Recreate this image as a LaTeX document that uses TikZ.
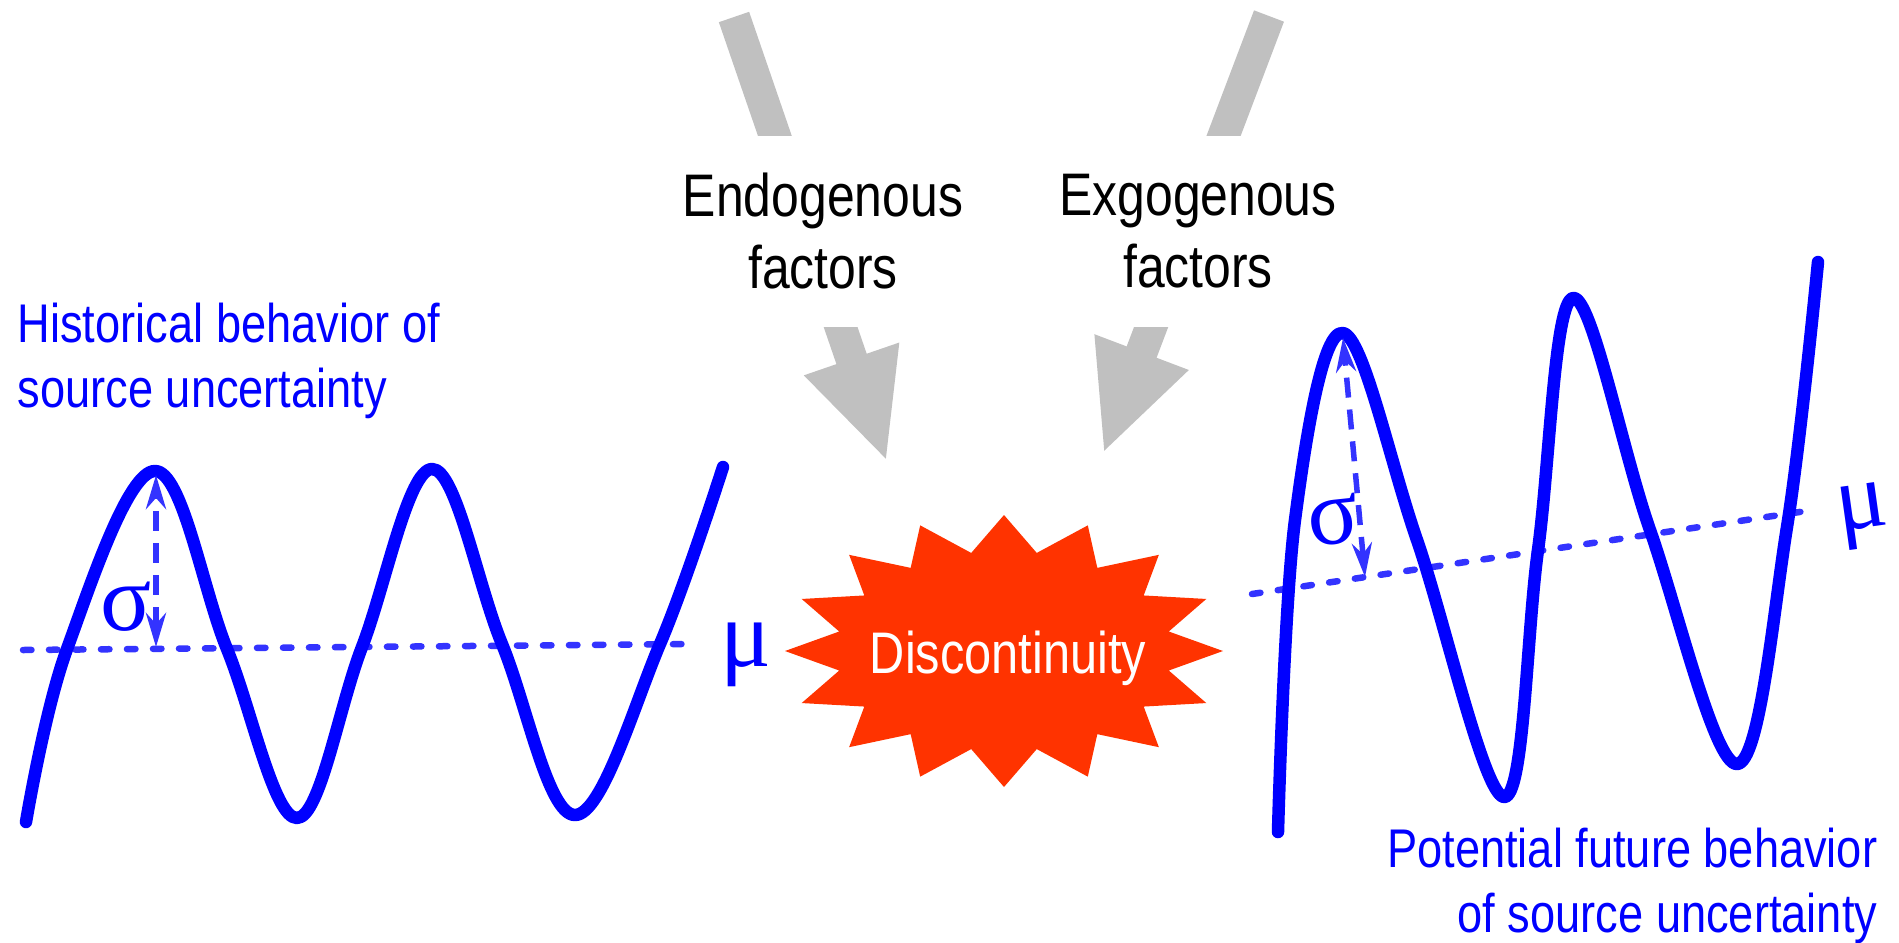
\documentclass[tikz,border=0pt]{standalone}
\usepackage{fontspec}
\setmainfont{Liberation Sans}[FakeStretch=0.83]
\newfontfamily\greekfont{Liberation Serif}
\usepackage{tikz}
\usetikzlibrary{arrows.meta}

\definecolor{waveblue}{RGB}{0,0,255}
\definecolor{dashblue}{RGB}{51,51,255}
\definecolor{arrowgray}{RGB}{192,192,192}
\definecolor{burst}{RGB}{255,51,0}

\begin{document}
\begin{tikzpicture}[
  x=0.1mm, y=-0.1mm,
  factor/.style={align=center, fill=white, inner sep=0pt, minimum height=19.1mm,
    font=\fontsize{17.1}{20.5}\selectfont},
  caption/.style={text=waveblue, inner sep=0pt, font=\fontsize{15.5}{18.7}\selectfont},
  greek/.style={text=waveblue, inner sep=0pt, font=\greekfont\fontsize{27}{27}\selectfont},
  push/.style={draw=arrowgray, line width=3.2mm, -{Triangle[length=10.9mm, width=9.2mm]}},
  wave/.style={draw=waveblue, line width=1.25mm, line cap=round, line join=round},
  meanline/.style={draw=dashblue, line width=0.65mm, line cap=round, dash pattern=on 0.85mm off 1.75mm},
  spread/.style={draw=dashblue, line width=0.55mm, dash pattern=on 2mm off 1.2mm,
    {Stealth[length=3.4mm, width=2mm]}-{Stealth[length=3.4mm, width=2mm]}}
]
\useasboundingbox (0,0) rectangle (1899,942);

% gray arrows, cut by the white label boxes
\coordinate (endo top) at (734,17);
\coordinate (endo tip) at (887,462);
\coordinate (exo top) at (1269,16);
\coordinate (exo tip) at (1103,454);
\draw[push] (endo top) -- (endo tip);
\draw[push] (exo top) -- (exo tip);

\node[factor] (endo) at (823,231) {Endogenous\\factors};
\node[factor] (exo) at (1198,231) {Exgogenous\\factors};

% the burst
\fill[burst, shift={(1004,651)}] (0:219 and 136)
  \foreach \k in {0,...,15} { -- (\k*22.5:219 and 136) -- (\k*22.5+11.25:168 and 100) } -- cycle;
\node[text=white, inner sep=0pt, anchor=base, font=\fontsize{16.7}{20}\selectfont] (disc)
  at (1008,673) {Discontinuity};

% historical behaviour
\node[caption, align=left, anchor=north west] (hist) at (17,302)
  {Historical behavior of\\source uncertainty};
\draw[meanline] (23,650) -- (692,644);
\draw[wave] plot[smooth, tension=0.62] coordinates {
  (26,822) (67,649) (155,471) (227,649) (297,818) (362,647) (432,469)
  (502,644) (575,815) (660,644) (723,467)};
\coordinate (peakL) at (156,475);
\coordinate (footL) at (156,647);
\draw[spread] (footL) -- (peakL);
\node[greek] (sigmaL) at (126,607) {σ};
\node[greek] (muL) at (746,655) {μ};

% potential future behaviour
\node[caption, align=right, anchor=north east] (future) at (1878,827)
  {Potential future behavior\\of source uncertainty};
\draw[meanline] (1252,594) -- (1813,510);
\draw[wave] plot[smooth, tension=0.6] coordinates {
  (1278,832) (1295,520) (1343,333) (1417,540) (1504,797) (1538,550)
  (1573,298) (1650,530) (1737,764) (1787,527) (1818,262)};
\coordinate (peakR) at (1343,338);
\coordinate (footR) at (1365,577);
\draw[spread] (footR) -- (peakR);
\node[greek, rotate=6] (sigmaR) at (1333,520) {σ};
\node[greek, rotate=8] (muR) at (1863,516) {μ};
\end{tikzpicture}
\end{document}
